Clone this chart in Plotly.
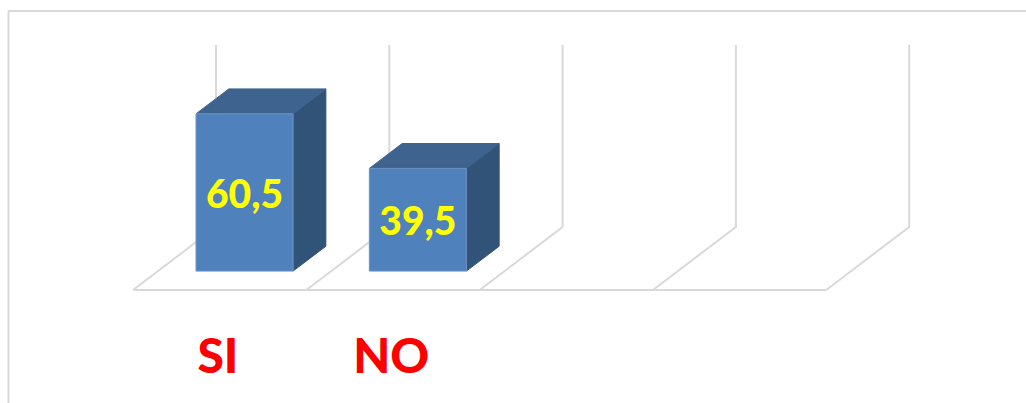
import plotly.graph_objects as go

# -------------------------
# DATA
# -------------------------
categories = ["SI", "NO", "", ""]
values = [60.5, 39.5, None, None]
value_labels = ["60,5", "39,5"]
axis_max = 70

# -------------------------
# OBLIQUE PROJECTION
# -------------------------
WIDTH, HEIGHT = 1026, 403
X0_PX, Y0_PX = 133, 290      # front left corner of the floor
CAT_PX, VAL_PX = 173.3, 2.6  # pixels per category, per value unit
DEPTH_DX = 83 / CAT_PX       # shift of the back wall, in category units
DEPTH_DY = 63 / VAL_PX       # shift of the back wall, in value units
BAR_GAP = 0.22               # gap each side of a bar, in category units
BAR_D0, BAR_D1 = 0.30, 0.695  # bar front and back, as a share of floor depth

GRID = "#D9D9D9"
FRONT = "#4F81BD"
TOP = "#3E638F"
SIDE = "#325378"
EDGE = "#6D93C4"


def project(cat, val, depth=0.0):
    return cat + depth * DEPTH_DX, val + depth * DEPTH_DY


def face(points, color, line=None):
    xy = [project(*p) for p in points]
    xs = [p[0] for p in xy] + [xy[0][0]]
    ys = [p[1] for p in xy] + [xy[0][1]]
    return go.Scatter(
        x=xs, y=ys, mode="lines", fill="toself", fillcolor=color,
        line=dict(color=line or color, width=1), hoverinfo="skip"
    )


def grid_line(points):
    xy = [project(*p) for p in points]
    return go.Scatter(
        x=[p[0] for p in xy], y=[p[1] for p in xy], mode="lines",
        line=dict(color=GRID, width=2), hoverinfo="skip"
    )


fig = go.Figure()

# -------------------------
# WALLS AND FLOOR
# -------------------------
n = len(categories)
for i in range(n + 1):
    fig.add_trace(grid_line([(i, 0, 0), (i, 0, 1), (i, axis_max, 1)]))
fig.add_trace(grid_line([(0, 0, 0), (n, 0, 0)]))

# -------------------------
# BARS
# -------------------------
for i, v in enumerate(values):
    if v is None:
        continue
    x0, x1 = i + BAR_GAP, i + 1 - BAR_GAP
    fig.add_trace(face([(x1, 0, BAR_D0), (x1, 0, BAR_D1), (x1, v, BAR_D1), (x1, v, BAR_D0)], SIDE))
    fig.add_trace(face([(x0, v, BAR_D0), (x0, v, BAR_D1), (x1, v, BAR_D1), (x1, v, BAR_D0)], TOP))
    fig.add_trace(face([(x0, 0, BAR_D0), (x1, 0, BAR_D0), (x1, v, BAR_D0), (x0, v, BAR_D0)], FRONT, EDGE))

# -------------------------
# LABELS
# -------------------------
label_xy = [project(i + 0.5, values[i] / 2 - 2.2, BAR_D0) for i in range(len(value_labels))]
fig.add_trace(go.Scatter(
    x=[p[0] for p in label_xy], y=[p[1] for p in label_xy],
    mode="text", text=value_labels, textposition="middle center",
    textfont=dict(family="Lato", size=39, color="#FFFF00", weight=900),
    hoverinfo="skip"
))

name_x = [i + 0.49 for i in range(n)]
fig.add_trace(go.Scatter(
    x=name_x, y=[-27.4] * n,
    mode="text", text=categories, textposition="middle center",
    textfont=dict(family="Lato", size=48, color="#FF0000", weight=900),
    hoverinfo="skip"
))

# -------------------------
# LAYOUT
# -------------------------
fig.update_layout(
    width=WIDTH, height=HEIGHT,
    margin=dict(l=0, r=0, t=0, b=0),
    paper_bgcolor="white", plot_bgcolor="white",
    showlegend=False,
    xaxis=dict(visible=False, range=[-X0_PX / CAT_PX, (WIDTH - X0_PX) / CAT_PX]),
    yaxis=dict(visible=False, range=[(Y0_PX - HEIGHT) / VAL_PX, Y0_PX / VAL_PX]),
    shapes=[
        dict(type="line", xref="paper", yref="paper", x0=8.5 / WIDTH, x1=8.5 / WIDTH,
             y0=0, y1=1 - 11 / HEIGHT, line=dict(color=GRID, width=2)),
        dict(type="line", xref="paper", yref="paper", x0=8 / WIDTH, x1=1,
             y0=1 - 11 / HEIGHT, y1=1 - 11 / HEIGHT, line=dict(color=GRID, width=2)),
    ],
)

fig.write_html("out.html", post_script="document.body.style.margin='0';", config={"displayModeBar": False})
